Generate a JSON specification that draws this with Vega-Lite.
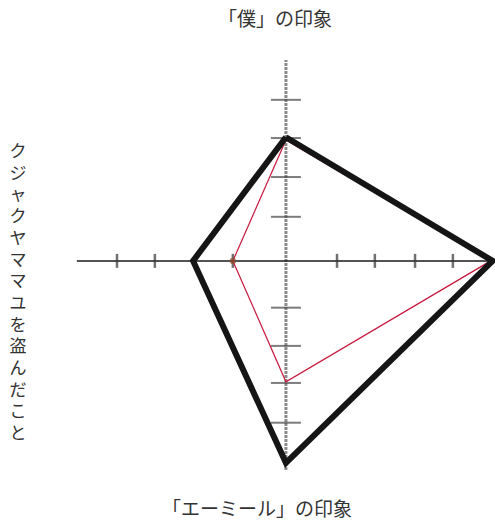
{
  "$schema": "https://vega.github.io/schema/vega-lite/v6.json",
  "width": 495,
  "height": 528,
  "padding": 0,
  "autosize": {"type": "none"},
  "background": "white",
  "config": {"view": {"stroke": null}},
  "datasets": {
    "axes": [
      {"axis": "h", "x": -5.36, "x2": 5.3, "y": 0, "y2": 0},
      {"axis": "v", "x": 0, "x2": 0, "y": -5.36, "y2": 5.15}
    ],
    "hticks": [
      {"x": -4.33}, {"x": -3.36}, {"x": -1.36}, {"x": 1.31}, {"x": 2.28}, {"x": 3.31}, {"x": 4.28}
    ],
    "vticks": [
      {"y": 4.13}, {"y": 3.15}, {"y": 2.15}, {"y": 1.13}, {"y": -1.2}, {"y": -2.18}, {"y": -3.13}, {"y": -4.15}
    ],
    "shapes": [
      {"series": "エーミール", "order": 1, "x": 0, "y": 3.17},
      {"series": "エーミール", "order": 2, "x": 5.3, "y": 0},
      {"series": "エーミール", "order": 3, "x": 0, "y": -5.18},
      {"series": "エーミール", "order": 4, "x": -2.38, "y": 0},
      {"series": "エーミール", "order": 5, "x": 0, "y": 3.17},
      {"series": "僕", "order": 1, "x": 0, "y": 3.1},
      {"series": "僕", "order": 2, "x": 5.25, "y": 0},
      {"series": "僕", "order": 3, "x": 0, "y": -3.1},
      {"series": "僕", "order": 4, "x": -1.36, "y": 0},
      {"series": "僕", "order": 5, "x": 0, "y": 3.1}
    ],
    "labels": [
      {"x": -0.28, "y": 6.18, "label": "「僕」の印象"},
      {"x": -0.74, "y": -6.38, "label": "「エーミール」の印象"}
    ],
    "vlabel": [
      {"x": -6.87, "y": 2.79, "label": "ク\nジ\nャ\nク\nヤ\nマ\nマ\nユ\nを\n盗\nん\nだ\nこ\nと"}
    ]
  },
  "encoding": {
    "x": {"type": "quantitative", "scale": {"domain": [-7.33, 5.36], "nice": false, "zero": false}, "axis": null},
    "y": {"type": "quantitative", "scale": {"domain": [-6.85, 6.69], "nice": false, "zero": false}, "axis": null}
  },
  "layer": [
    {
      "data": {"name": "axes"},
      "transform": [{"filter": "datum.axis == 'v'"}],
      "mark": {"type": "rule", "color": "#8a8a8a", "strokeWidth": 3, "strokeDash": [3, 1]},
      "encoding": {"x": {"field": "x", "type": "quantitative"}, "x2": {"field": "x2"}, "y": {"field": "y", "type": "quantitative"}, "y2": {"field": "y2"}}
    },
    {
      "data": {"name": "axes"},
      "transform": [{"filter": "datum.axis == 'h'"}],
      "mark": {"type": "rule", "color": "#1a1a1a", "strokeWidth": 1.5},
      "encoding": {"x": {"field": "x", "type": "quantitative"}, "x2": {"field": "x2"}, "y": {"field": "y", "type": "quantitative"}, "y2": {"field": "y2"}}
    },
    {
      "data": {"name": "hticks"},
      "mark": {"type": "tick", "orient": "vertical", "color": "#333", "thickness": 2.5, "size": 14},
      "encoding": {"x": {"field": "x", "type": "quantitative"}, "y": {"datum": 0, "type": "quantitative"}}
    },
    {
      "data": {"name": "vticks"},
      "mark": {"type": "tick", "orient": "horizontal", "color": "#444", "thickness": 2, "size": 30},
      "encoding": {"y": {"field": "y", "type": "quantitative"}, "x": {"datum": 0, "type": "quantitative"}}
    },
    {
      "data": {"name": "shapes"},
      "transform": [{"filter": "datum.series == '僕'"}],
      "mark": {"type": "line", "color": "#c8183c", "strokeWidth": 1.2},
      "encoding": {"x": {"field": "x", "type": "quantitative"}, "y": {"field": "y", "type": "quantitative"}, "order": {"field": "order"}}
    },
    {
      "data": {"name": "shapes"},
      "transform": [{"filter": "datum.series == 'エーミール'"}],
      "mark": {"type": "line", "color": "#151515", "strokeWidth": 6, "strokeJoin": "miter"},
      "encoding": {"x": {"field": "x", "type": "quantitative"}, "y": {"field": "y", "type": "quantitative"}, "order": {"field": "order"}}
    },
    {
      "data": {"name": "shapes"},
      "transform": [{"filter": "datum.series == '僕' && datum.order == 4"}],
      "mark": {"type": "point", "filled": true, "color": "#8a4a2a", "size": 40},
      "encoding": {"x": {"field": "x", "type": "quantitative"}, "y": {"field": "y", "type": "quantitative"}}
    },
    {
      "data": {"name": "labels"},
      "mark": {"type": "text", "font": "Noto Sans CJK JP", "fontSize": 19, "color": "#333", "align": "center", "baseline": "middle"},
      "encoding": {"x": {"field": "x", "type": "quantitative"}, "y": {"field": "y", "type": "quantitative"}, "text": {"field": "label"}}
    },
    {
      "data": {"name": "vlabel"},
      "mark": {"type": "text", "font": "Noto Sans CJK JP", "fontSize": 17, "color": "#333", "align": "center", "baseline": "middle", "lineBreak": "\n", "lineHeight": 21.7},
      "encoding": {"x": {"field": "x", "type": "quantitative"}, "y": {"field": "y", "type": "quantitative"}, "text": {"field": "label"}}
    }
  ]
}
